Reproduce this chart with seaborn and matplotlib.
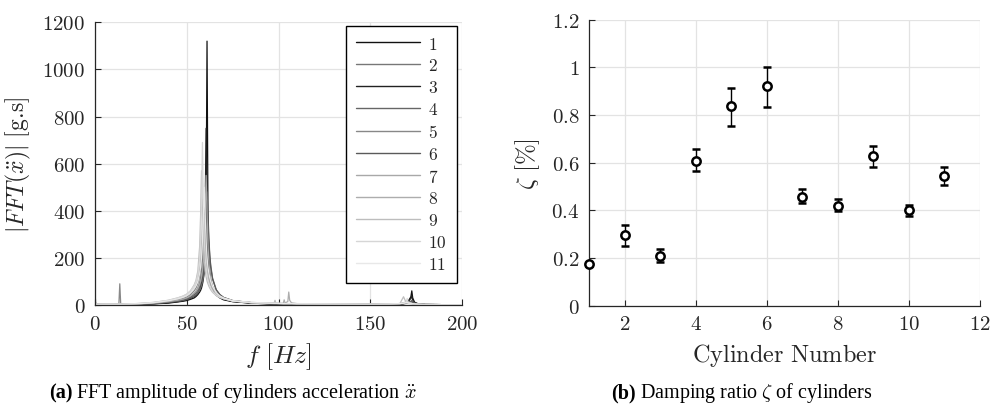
import matplotlib
matplotlib.use("Agg")
import matplotlib.pyplot as plt
from matplotlib.lines import Line2D
import seaborn as sns
import pandas as pd

# ---------------- data ----------------
freq = [0, 0.3, 1, 3, 6, 10, 13, 13.5, 14, 18,
        25, 32, 40, 45, 48, 50, 52, 54, 55, 56,
        57, 57.5, 58, 58.5, 59, 59.5, 60, 60.5, 61, 61.5,
        62, 62.5, 63, 64, 66, 68, 69, 70, 75, 85,
        95, 97.5, 98, 98.5, 102.5, 103, 103.5, 105, 105.5, 106,
        107, 110, 130, 150, 160, 166, 168, 169.5, 170, 170.5,
        172, 172.5, 173, 174, 176, 180, 200]

amp_c1 = [10, 3, 2, 1, 1, 1, 1, 1, 1, 1.5,
          3, 5, 8, 13, 16, 19, 24, 30, 36, 44,
          55, 62, 72, 88, 110, 145, 220, 420, 1120, 400,
          210, 140, 105, 72, 42, 30, 26, 22, 14, 8,
          5, 4, 4, 4, 3, 3, 3, 3, 3, 3,
          3, 3, 2, 2, 3, 5, 7, 10, 12, 15,
          35, 60, 30, 12, 5, 2, 1]
amp_c2 = [68, 10, 4, 3, 2, 2, 2, 2, 2, 3,
          5, 8, 13, 18, 24, 28, 36, 48, 58, 72,
          95, 115, 145, 190, 260, 340, 420, 330, 250, 190,
          145, 115, 95, 72, 48, 34, 30, 26, 16, 9,
          6, 5, 5, 5, 4, 4, 4, 4, 4, 4,
          4, 3, 3, 2, 3, 4, 6, 8, 9, 10,
          14, 16, 12, 7, 4, 2, 1]
amp_c3 = [8, 3, 2, 1.5, 1, 1, 1, 1, 1, 2,
          3, 5, 10, 14, 18, 22, 28, 36, 42, 52,
          66, 78, 95, 120, 160, 240, 420, 750, 420, 240,
          160, 120, 95, 68, 44, 32, 28, 24, 15, 8,
          5, 4, 4, 4, 3, 3, 3, 3, 3, 3,
          3, 3, 2, 2, 3, 4, 6, 9, 11, 14,
          28, 40, 20, 9, 4, 2, 1]
amp_c4 = [6, 3, 2, 2, 2, 2, 2, 2, 2, 2,
          4, 6, 12, 16, 20, 24, 30, 38, 44, 52,
          64, 72, 82, 95, 115, 140, 175, 220, 270, 300,
          260, 210, 170, 115, 65, 44, 38, 32, 18, 10,
          6, 5, 5, 5, 4, 4, 4, 4, 4, 4,
          4, 3, 3, 2, 3, 4, 6, 8, 9, 10,
          16, 20, 14, 8, 4, 2, 1]
amp_c5 = [8, 4, 3, 2, 2, 2, 3, 90, 4, 3,
          5, 9, 16, 22, 28, 34, 44, 60, 72, 92,
          125, 150, 190, 250, 320, 380, 320, 250, 190, 150,
          125, 105, 90, 70, 48, 36, 32, 28, 17, 10,
          7, 6, 6, 6, 5, 5, 5, 5, 5, 5,
          5, 4, 3, 3, 3, 5, 8, 11, 12, 12,
          10, 8, 7, 5, 3, 2, 1]
amp_c6 = [7, 3, 2, 2, 2, 2, 2, 2, 2, 2,
          4, 6, 12, 17, 21, 26, 33, 44, 52, 62,
          78, 90, 105, 125, 155, 200, 290, 390, 480, 390,
          290, 210, 160, 110, 64, 44, 38, 32, 19, 10,
          6, 5, 5, 5, 4, 4, 4, 4, 4, 4,
          4, 3, 3, 2, 3, 4, 5, 7, 8, 9,
          12, 14, 11, 7, 4, 2, 1]
amp_c7 = [6, 4, 3, 3, 3, 3, 3, 3, 3, 3,
          5, 8, 14, 20, 25, 30, 38, 50, 58, 70,
          88, 100, 118, 145, 185, 260, 400, 550, 400, 260,
          185, 140, 112, 80, 52, 38, 33, 28, 17, 10,
          7, 6, 6, 6, 5, 5, 5, 5, 5, 5,
          5, 4, 3, 3, 3, 5, 7, 9, 10, 9,
          8, 7, 6, 4, 3, 2, 1]
amp_c8 = [6, 4, 3, 3, 3, 3, 3, 3, 3, 4,
          6, 10, 18, 26, 33, 40, 52, 70, 85, 105,
          150, 185, 250, 350, 450, 350, 250, 185, 150, 125,
          105, 92, 82, 66, 46, 36, 34, 29, 18, 11,
          8, 7, 8, 7, 7, 22, 8, 15, 55, 20,
          9, 6, 4, 3, 4, 6, 9, 14, 20, 12,
          8, 7, 6, 4, 3, 2, 1]
amp_c9 = [6, 4, 3, 3, 3, 3, 3, 3, 3, 4,
          7, 11, 20, 30, 38, 46, 60, 85, 105, 145,
          250, 380, 570, 380, 250, 185, 145, 120, 102, 90,
          80, 72, 65, 54, 40, 31, 29, 26, 17, 10,
          8, 8, 20, 8, 6, 6, 6, 6, 6, 6,
          6, 5, 4, 3, 4, 6, 35, 9, 8, 7,
          6, 6, 5, 4, 3, 2, 1]
amp_c10 = [6, 4, 3, 3, 3, 3, 3, 3, 3, 4,
           7, 11, 20, 30, 38, 46, 60, 82, 100, 130,
           200, 280, 440, 690, 440, 280, 200, 155, 125, 105,
           92, 80, 72, 58, 42, 32, 30, 27, 17, 10,
           8, 7, 7, 7, 6, 6, 6, 6, 6, 6,
           6, 5, 4, 3, 4, 6, 8, 12, 28, 10,
           7, 6, 5, 4, 3, 2, 1]
amp_c11 = [6, 4, 3, 3, 3, 3, 3, 3, 3, 4,
           6, 10, 18, 26, 33, 40, 52, 70, 82, 100,
           135, 160, 200, 270, 380, 500, 380, 270, 200, 160,
           135, 115, 100, 78, 52, 38, 34, 30, 18, 11,
           8, 7, 7, 7, 6, 6, 6, 6, 6, 6,
           6, 5, 4, 3, 4, 6, 8, 10, 11, 9,
           7, 6, 5, 4, 3, 2, 1]

cylinder_labels = ["1", "2", "3", "4", "5", "6", "7", "8", "9", "10", "11"]
line_colors = ["#111111", "#777777", "#222222", "#666666", "#888888", "#5a5a5a",
               "#a8a8a8", "#adadad", "#bdbdbd", "#d6d6d6", "#e8e8e8"]

cyl_number = [1, 2, 3, 4, 5, 6, 7, 8, 9, 10, 11]
zeta_mean = [0.173, 0.295, 0.210, 0.607, 0.836, 0.920, 0.456, 0.420, 0.628, 0.400, 0.543]
zeta_low = [0.168, 0.252, 0.184, 0.564, 0.754, 0.834, 0.431, 0.397, 0.580, 0.378, 0.506]
zeta_high = [0.178, 0.338, 0.236, 0.659, 0.915, 1.000, 0.488, 0.448, 0.669, 0.424, 0.583]

fft_xticks = [0, 50, 100, 150, 200]
fft_yticks = [0, 200, 400, 600, 800, 1000, 1200]
zeta_xticks = [2, 4, 6, 8, 10, 12]
zeta_yticks = [0, 0.2, 0.4, 0.6, 0.8, 1.0, 1.2]
zeta_ytick_labels = ["0", "0.2", "0.4", "0.6", "0.8", "1", "1.2"]

# ---------------- style ----------------
sns.set_theme(style="white")
plt.rcParams["font.family"] = ["Liberation Serif", "DejaVu Serif"]
plt.rcParams["mathtext.fontset"] = "cm"

TXT = "#262626"
W, H = 994, 414
fig = plt.figure(figsize=(W / 100, H / 100), dpi=100)
ax1 = fig.add_axes([95 / W, 1 - 306 / H, 367.3 / W, 282.7 / H])
ax2 = fig.add_axes([589.3 / W, 1 - 306.7 / H, 390.7 / W, 286 / H])

amps = [amp_c1, amp_c2, amp_c3, amp_c4, amp_c5, amp_c6, amp_c7, amp_c8, amp_c9, amp_c10, amp_c11]
rows = []
for lab, a in zip(cylinder_labels, amps):
    assert len(a) == len(freq), (lab, len(a))
    for f, v in zip(freq, a):
        rows.append({"f": f, "amp": v, "cyl": lab})
df = pd.DataFrame(rows)

sns.lineplot(data=df, x="f", y="amp", hue="cyl", hue_order=cylinder_labels,
             palette=line_colors, estimator=None, sort=False, linewidth=0.9,
             legend=False, ax=ax1)


def style(ax):
    ax.grid(True, color="#e3e3e3", linewidth=0.9)
    ax.set_axisbelow(True)
    for s in ["top", "right"]:
        ax.spines[s].set_visible(False)
    for s in ["left", "bottom"]:
        ax.spines[s].set_color(TXT)
        ax.spines[s].set_linewidth(0.9)
    ax.tick_params(direction="in", length=4, width=0.8, colors=TXT,
                   labelsize=15, pad=7, left=True, bottom=True)


style(ax1)
ax1.set_xlim(0, 200)
ax1.set_ylim(0, 1200)
ax1.set_xticks(fft_xticks, labels=[f"${t}$" for t in fft_xticks])
ax1.set_yticks(fft_yticks, labels=[f"${t}$" for t in fft_yticks])
ax1.set_xlabel(r"$f\ [Hz]$", fontsize=18.5, color=TXT)
ax1.set_ylabel(r"$|FFT(\ddot{x})|\ [\mathrm{g.\!s}]$", fontsize=17, color=TXT)
ax1.xaxis.set_label_coords(0.5, -0.125)
ax1.yaxis.set_label_coords(-0.17, 0.5)

handles = [Line2D([], [], color=c, linewidth=1.0) for c in line_colors]
leg = ax1.legend(handles, [f"${l}$" for l in cylinder_labels], loc="upper right",
                 bbox_to_anchor=(0.9856, 0.987), borderaxespad=0, frameon=True,
                 fancybox=False, edgecolor="black", framealpha=1, fontsize=12.5,
                 handlelength=3.7, handletextpad=0.45, labelspacing=0.33,
                 borderpad=0.6)
leg.get_frame().set_linewidth(1.0)

# right panel
style(ax2)
yerr = [[m - l for m, l in zip(zeta_mean, zeta_low)],
        [h - m for m, h in zip(zeta_mean, zeta_high)]]
ax2.errorbar(cyl_number, zeta_mean, yerr=yerr, fmt="o", mfc="white", mec="black",
             mew=1.8, ms=6, ecolor="black", elinewidth=1.0, capsize=3,
             capthick=1.0, clip_on=False, zorder=5)
ax2.set_xlim(1, 12)
ax2.set_ylim(0, 1.2)
ax2.set_xticks(zeta_xticks, labels=[f"${t}$" for t in zeta_xticks])
ax2.set_yticks(zeta_yticks, labels=[f"${t}$" for t in zeta_ytick_labels])
ax2.set_xlabel(r"$\mathrm{Cylinder\ Number}$", fontsize=17.5, color=TXT)
ax2.set_ylabel(r"$\zeta\ [\%]$", fontsize=18, color=TXT)
ax2.xaxis.set_label_coords(0.5, -0.125)
ax2.yaxis.set_label_coords(-0.122, 0.5)

# captions
def caption(cx, bold, rest, y_px=398):
    t1 = fig.text(0, 1 - y_px / H, bold, fontweight="bold", fontsize=14.5,
                  va="baseline", color="black")
    t2 = fig.text(0, 1 - y_px / H, rest, fontsize=14.5, va="baseline", color="black")
    fig.canvas.draw()
    r = fig.canvas.get_renderer()
    w1 = t1.get_window_extent(r).width
    w2 = t2.get_window_extent(r).width
    gap = 4
    x0 = cx - (w1 + gap + w2) / 2
    t1.set_x(x0 / W)
    t2.set_x((x0 + w1 + gap) / W)


caption(233, "(a)", r"FFT amplitude of cylinders acceleration $\ddot{x}$")
caption(742, "(b)", r"Damping ratio $\zeta$ of cylinders")

fig.savefig("out.png", dpi=100)
